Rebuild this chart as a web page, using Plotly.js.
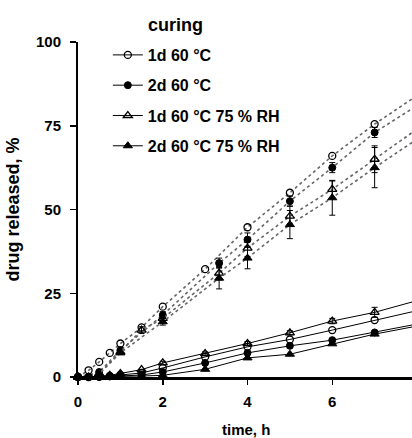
<!DOCTYPE html>
<html>
<head>
<meta charset="utf-8">
<script src="https://cdn.plot.ly/plotly-3.0.1.min.js"></script>
<style>
html, body { margin: 0; padding: 0; overflow: hidden; background: #fff; width: 412px; height: 438px; }
#chart { width: 447px; height: 438px; }
</style>
</head>
<body>
<div id="chart"></div>
<script>
// Legend labels
var seriesNames = ["1d 60 °C", "2d 60 °C", "1d 60 °C 75 % RH", "2d 60 °C 75 % RH"];
var legendTitle = "curing";
var xTitle = "time, h";
var yTitle = "drug released, %";

// Slow-release series (solid lines), time in h
var slowTime = [0, 0.25, 0.5, 0.75, 1, 1.5, 2, 3, 4, 5, 6, 7, 8];
var slow1d60 = [0, 0, 0.1, 0.3, 0.6, 1.2, 2.7, 6, 9, 11.2, 14, 17, 19.8];
var slow2d60 = [0, 0, 0, 0.2, 0.3, 0.6, 1.5, 4.2, 7.2, 9.3, 11, 13.3, 15.8];
var slow1d60RH = [0, 0, 0.2, 0.5, 1, 2.2, 4.2, 7, 10, 13.2, 16.7, 19.3, 22.8];
var slow2d60RH = [0, 0, 0, 0, 0.2, 0.3, 0.5, 2.3, 5.7, 6.8, 9.9, 12.8, 15.2];
var slow1d60RHErr = [0, 0, 0, 0, 0, 0, 0.5, 0.5, 0.6, 0.6, 0.8, 1.5, 1.5];

// Fast-release series (dotted lines)
var fast1d60Time = [0, 0.25, 0.5, 0.75, 1, 1.5, 2, 3, 4, 5, 6, 7, 8];
var fast1d60 = [0, 2, 4.5, 7.2, 10, 14.8, 21, 32.2, 44.7, 55, 66, 75.5, 84];
var fast2d60Time = [0, 0.5, 1, 2, 3.33, 4, 5, 6, 7, 8];
var fast2d60 = [0, 1.5, 8, 18.5, 34, 41, 52.5, 62.5, 73, 81];
var fast2d60Err = [0, 0, 0.5, 1, 1.5, 2, 1.5, 1.5, 1.5, 1.5];
var fast1d60RHTime = [0, 0.5, 1, 1.5, 2, 3.33, 4, 5, 6, 7, 8];
var fast1d60RH = [0, 1, 7.5, 14, 17.5, 31, 38.5, 48, 56, 65, 74];
var fast1d60RHErr = [0, 0, 0.5, 1, 1, 2, 2.5, 3, 2.5, 4, 4];
var fast2d60RHTime = [0, 0.5, 1, 2, 3.33, 4, 5, 6, 7, 8];
var fast2d60RH = [0, 1, 7.2, 16.5, 29.5, 35.5, 45.5, 53.5, 62.5, 71];
var fast2d60RHErr = [0, 0, 0.5, 1, 3.2, 3.2, 4.2, 5.2, 6, 6];

// Axis ticks
var yTicks = [0, 25, 50, 75, 100];
var xTicks = [0, 2, 4, 6, 8];

var markerStyles = [
  {symbol: "circle-open", size: 7, color: "#000", line: {color: "#000", width: 1.3}},
  {symbol: "circle", size: 7, color: "#000", line: {color: "#000", width: 1}},
  {symbol: "triangle-up-open", size: 8, color: "#000", line: {color: "#000", width: 1.3}},
  {symbol: "triangle-up", size: 8, color: "#000", line: {color: "#000", width: 1}}
];

function errBar(arr) {
  return arr ? {type: "data", array: arr, visible: true, color: "#000", thickness: 1, width: 3} : undefined;
}

function solid(i, x, y, err) {
  return {
    x: x, y: y, name: seriesNames[i], type: "scatter", mode: "lines+markers",
    line: {color: "#000", width: 1}, marker: markerStyles[i],
    error_y: errBar(err), cliponaxis: false, legendgroup: "g" + i, showlegend: true
  };
}
function dotted(i, x, y, err) {
  return {
    x: x, y: y, name: seriesNames[i], type: "scatter", mode: "lines+markers",
    line: {color: "#666", width: 1.6, dash: "dot"}, marker: markerStyles[i],
    error_y: errBar(err), cliponaxis: false, legendgroup: "g" + i, showlegend: false
  };
}

var traces = [
  dotted(0, fast1d60Time, fast1d60),
  dotted(1, fast2d60Time, fast2d60, fast2d60Err),
  dotted(2, fast1d60RHTime, fast1d60RH, fast1d60RHErr),
  dotted(3, fast2d60RHTime, fast2d60RH, fast2d60RHErr),
  solid(0, slowTime, slow1d60),
  solid(1, slowTime, slow2d60),
  solid(2, slowTime, slow1d60RH, slow1d60RHErr),
  solid(3, slowTime, slow2d60RH)
];

var fontFam = "Liberation Sans, Arial, sans-serif";

var layout = {
  width: 447, height: 438,
  margin: {l: 78, r: 30, t: 42, b: 61},
  paper_bgcolor: "#fff", plot_bgcolor: "#fff",
  showlegend: true,
  font: {family: fontFam, color: "#000", size: 15, weight: "bold"},
  xaxis: {
    range: [0, 8], tickvals: xTicks, ticktext: xTicks.map(String),
    showgrid: false, zeroline: false, showline: true, linecolor: "#000", linewidth: 2.5,
    ticks: "outside", ticklen: 5, tickwidth: 1.5, tickcolor: "#000",
    ticklabelstandoff: 4,
    tickfont: {family: fontFam, size: 15, color: "#000", weight: "bold"}
  },
  yaxis: {
    range: [0, 100], tickvals: yTicks, ticktext: yTicks.map(String),
    showgrid: false, zeroline: false, showline: true, linecolor: "#000", linewidth: 2,
    ticks: "outside", ticklen: 6, tickwidth: 1.5, tickcolor: "#000",
    ticklabelstandoff: 6,
    tickfont: {family: fontFam, size: 15, color: "#000", weight: "bold"},
    title: {text: yTitle, font: {family: fontFam, size: 18, color: "#000", weight: "bold"}, standoff: 12}
  },
  legend: {
    x: 0.088, y: 1.012, xanchor: "left", yanchor: "top",
    bgcolor: "rgba(0,0,0,0)", borderwidth: 0,
    font: {family: fontFam, size: 16, color: "#000", weight: "bold"},
    traceorder: "grouped", tracegroupgap: 6.5, itemwidth: 30
  },
  annotations: [{
    text: legendTitle, xref: "paper", yref: "paper",
    x: (175 - 78) / 339, y: (377 - 25) / 335, xanchor: "center", yanchor: "middle",
    showarrow: false, font: {family: fontFam, size: 18, color: "#000", weight: "bold"}
  }, {
    text: xTitle, xref: "paper", yref: "paper",
    x: (246 - 78) / 339, y: (377 - 429) / 335, xanchor: "center", yanchor: "middle",
    showarrow: false, font: {family: fontFam, size: 15, color: "#000", weight: "bold"}
  }]
};

Plotly.newPlot("chart", traces, layout, {displayModeBar: false, staticPlot: true});
</script>
</body>
</html>
